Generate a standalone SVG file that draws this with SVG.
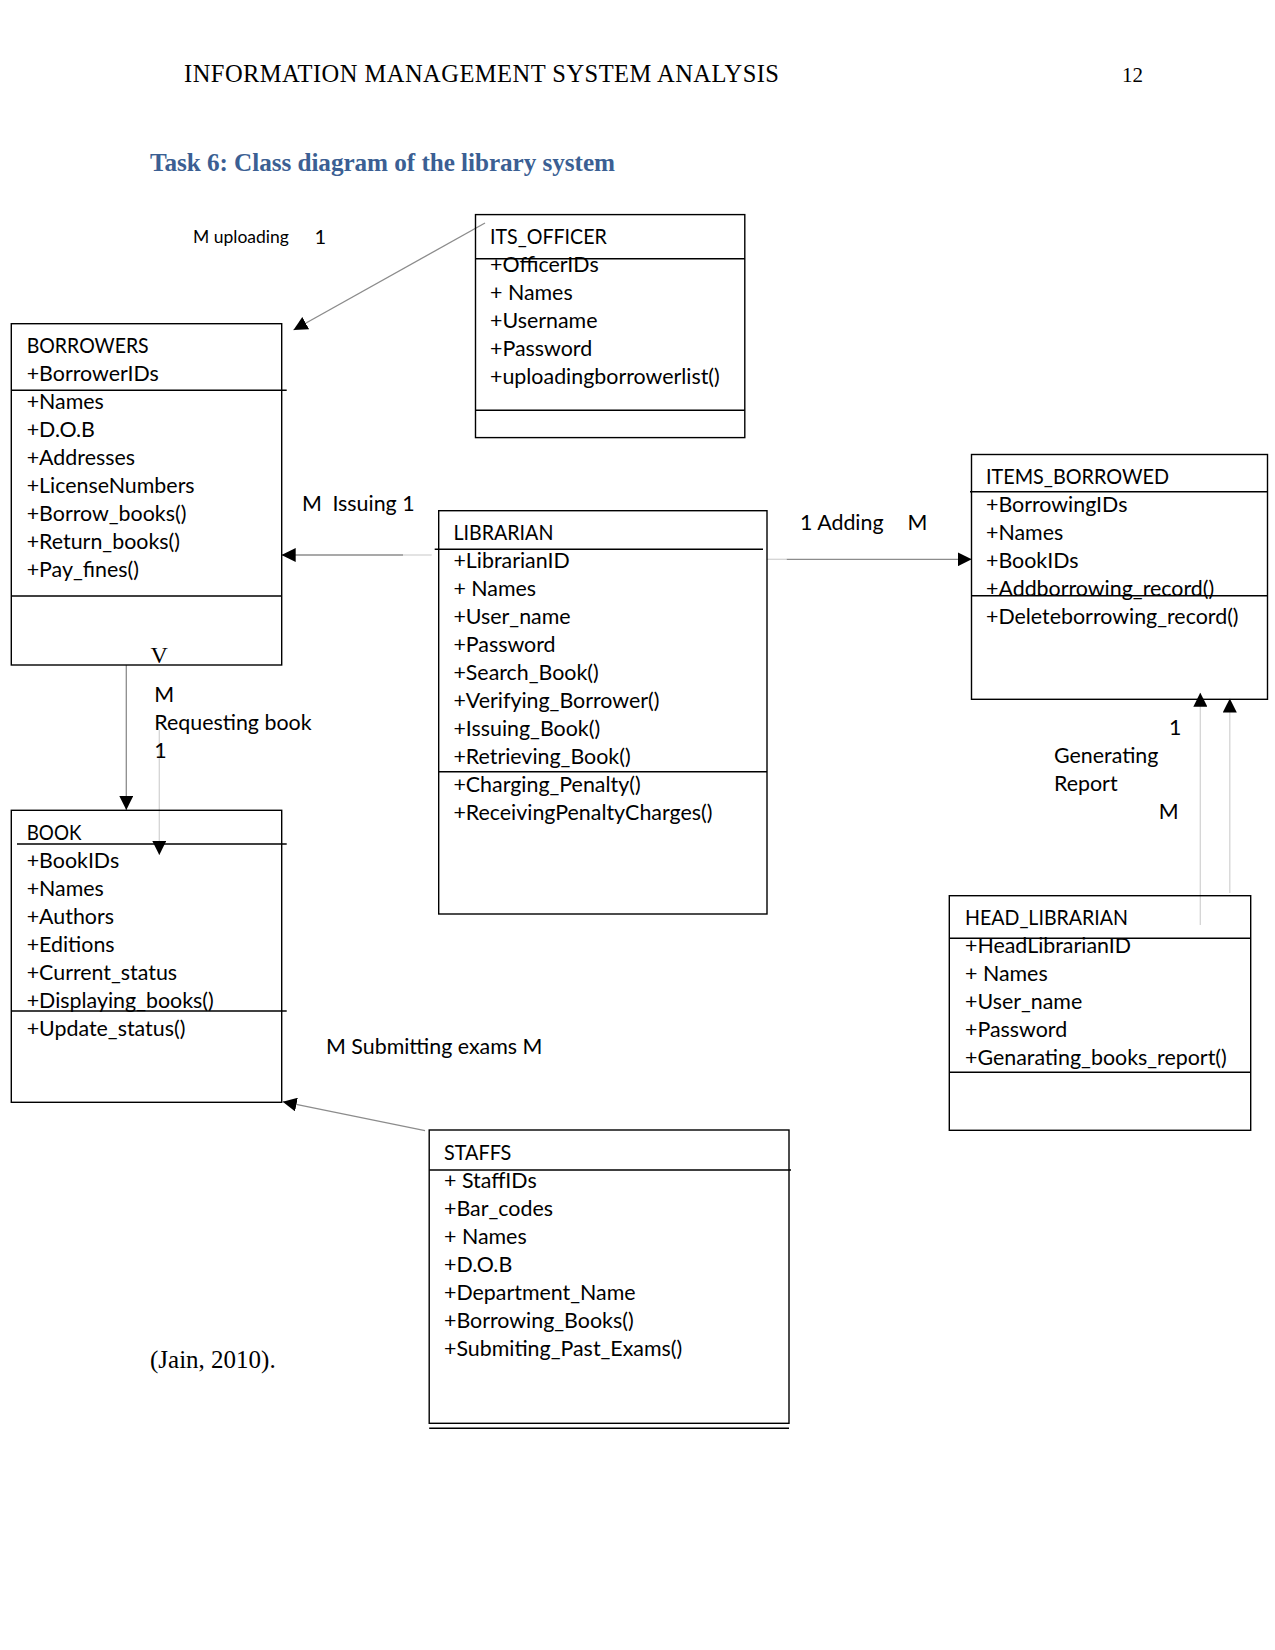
<svg xmlns="http://www.w3.org/2000/svg" width="1275" height="1650" viewBox="0 0 1275 1650">
<style>
.box{fill:none;stroke:#000;stroke-width:1.4}
.sep{stroke:#000;stroke-width:1.4}
.t{font-family:Lato,"Liberation Sans",sans-serif;font-size:21.4px;fill:#000}
.lbl{font-family:Lato,"Liberation Sans",sans-serif;font-size:21.4px;fill:#000}
.small{font-size:17.5px}
.one{font-size:20px}
.serif{font-family:"Liberation Serif","Times New Roman",serif;fill:#000}
.con{stroke:#8c8c8c;stroke-width:1.3;fill:none}
.conl{stroke:#d4d4d4;stroke-width:1.3;fill:none}
</style>
<defs>
<marker id="ah" markerUnits="userSpaceOnUse" markerWidth="14" markerHeight="14" viewBox="0 0 12 12" refX="12" refY="6" orient="auto">
<path d="M0,0 L12,6 L0,12 Z" fill="#000"/>
</marker>
</defs>
<rect width="1275" height="1650" fill="#fff"/>

<g id="page-text">
<text class="serif" x="184" y="82" font-size="24.5" textLength="595">INFORMATION MANAGEMENT SYSTEM ANALYSIS</text>
<text class="serif" x="1122" y="82" font-size="21">12</text>
<text class="serif" x="150" y="171" font-size="25.2" font-weight="bold" style="fill:#3b5f93" textLength="465">Task 6: Class diagram of the library system</text>
<text class="serif" x="150" y="1368" font-size="25">(Jain, 2010).</text>
</g>

<g id="connectors">
<line class="con" x1="485" y1="223" x2="293.5" y2="330" marker-end="url(#ah)"/>
<line class="conl" x1="431.7" y1="555" x2="403" y2="555"/>
<line class="con" x1="403" y1="555" x2="281.7" y2="555" marker-end="url(#ah)"/>
<line class="conl" x1="767" y1="559.3" x2="786.7" y2="559.3"/>
<line class="con" x1="786.7" y1="559.3" x2="971.7" y2="559.3" marker-end="url(#ah)"/>
<line class="con" x1="126.3" y1="665" x2="126.3" y2="810" marker-end="url(#ah)"/>
<line class="conl" x1="159.3" y1="730" x2="159.3" y2="855" marker-end="url(#ah)"/>
<line class="conl" x1="1200.3" y1="925" x2="1200.3" y2="692.7" marker-end="url(#ah)"/>
<line class="conl" x1="1229.8" y1="893" x2="1229.8" y2="698.5" marker-end="url(#ah)"/>
<line class="con" x1="425" y1="1130.7" x2="282.7" y2="1101.7" marker-end="url(#ah)"/>
</g>

<g id="labels">
<text class="lbl small" x="193" y="243">M uploading</text>
<text class="lbl one" x="314.5" y="244">1</text>
<text class="lbl" x="302" y="511">M</text>
<text class="lbl" x="332.4" y="511">Issuing 1</text>
<text class="lbl" x="800" y="530">1 Adding</text>
<text class="lbl" x="907.5" y="530">M</text>
<text class="serif" x="150.5" y="663" font-size="24">V</text>
<text class="lbl" x="154.3" y="702">M</text>
<text class="lbl" x="154.3" y="730.3">Requesting book</text>
<text class="lbl" x="154.3" y="758">1</text>
<text class="lbl" x="1169" y="735">1</text>
<text class="lbl" x="1054" y="763">Generating</text>
<text class="lbl" x="1054" y="791">Report</text>
<text class="lbl" x="1158.7" y="818.7">M</text>
<text class="lbl" x="326" y="1054">M Submitting exams M</text>
</g>

<g id="its_officer">
<rect class="box" x="475.5" y="214.6" width="269.3" height="223"/>
<line class="sep" x1="475.5" y1="258.8" x2="744.8" y2="258.8"/>
<line class="sep" x1="475.5" y1="410.3" x2="744.8" y2="410.3"/>
<text class="t" x="490" y="243.5" textLength="116.8" lengthAdjust="spacingAndGlyphs">ITS_OFFICER</text>
<text class="t" x="490" y="271.5">+OfficerIDs</text>
<text class="t" x="490" y="299.5">+ Names</text>
<text class="t" x="490" y="327.5">+Username</text>
<text class="t" x="490" y="355.5">+Password</text>
<text class="t" x="490" y="383.5">+uploadingborrowerlist()</text>
</g>

<g id="borrowers">
<rect class="box" x="11.3" y="323.7" width="270.4" height="341.3"/>
<line class="sep" x1="11.3" y1="390.3" x2="286.7" y2="390.3"/>
<line class="sep" x1="11.3" y1="596" x2="281.7" y2="596"/>
<text class="t" x="26.7" y="352.5" textLength="122" lengthAdjust="spacingAndGlyphs">BORROWERS</text>
<text class="t" x="26.7" y="380.5">+BorrowerIDs</text>
<text class="t" x="26.7" y="408.6">+Names</text>
<text class="t" x="26.7" y="436.6">+D.O.B</text>
<text class="t" x="26.7" y="464.7">+Addresses</text>
<text class="t" x="26.7" y="492.7">+LicenseNumbers</text>
<text class="t" x="26.7" y="520.8">+Borrow_books()</text>
<text class="t" x="26.7" y="548.8">+Return_books()</text>
<text class="t" x="26.7" y="576.9">+Pay_fines()</text>
</g>

<g id="librarian">
<rect class="box" x="438.7" y="510.7" width="328.3" height="403.3"/>
<line class="sep" x1="434.7" y1="549.3" x2="763" y2="549.3"/>
<line class="sep" x1="438.7" y1="771.7" x2="767" y2="771.7"/>
<text class="t" x="453.4" y="539.7" textLength="100" lengthAdjust="spacingAndGlyphs">LIBRARIAN</text>
<text class="t" x="453.4" y="567.7">+LibrarianID</text>
<text class="t" x="453.4" y="595.7">+ Names</text>
<text class="t" x="453.4" y="623.7">+User_name</text>
<text class="t" x="453.4" y="651.7">+Password</text>
<text class="t" x="453.4" y="679.7">+Search_Book()</text>
<text class="t" x="453.4" y="707.7">+Verifying_Borrower()</text>
<text class="t" x="453.4" y="735.7">+Issuing_Book()</text>
<text class="t" x="453.4" y="763.7">+Retrieving_Book()</text>
<text class="t" x="453.4" y="791.7">+Charging_Penalty()</text>
<text class="t" x="453.4" y="819.7">+ReceivingPenaltyCharges()</text>
</g>

<g id="items_borrowed">
<rect class="box" x="971.5" y="454.5" width="296" height="244.8"/>
<line class="sep" x1="970" y1="491.7" x2="1267.5" y2="491.7"/>
<line class="sep" x1="971.5" y1="595.7" x2="1267.5" y2="595.7"/>
<text class="t" x="986" y="483.7" textLength="183" lengthAdjust="spacingAndGlyphs">ITEMS_BORROWED</text>
<text class="t" x="986" y="511.7">+BorrowingIDs</text>
<text class="t" x="986" y="539.7">+Names</text>
<text class="t" x="986" y="567.7">+BookIDs</text>
<text class="t" x="986" y="595.7">+Addborrowing_record()</text>
<text class="t" x="986" y="623.7">+Deleteborrowing_record()</text>
</g>

<g id="book">
<rect class="box" x="11.3" y="810.3" width="270.4" height="292"/>
<line class="sep" x1="17" y1="844" x2="286.7" y2="844"/>
<line class="sep" x1="11.3" y1="1011" x2="286.7" y2="1011"/>
<text class="t" x="26.7" y="839.7" textLength="54.7" lengthAdjust="spacingAndGlyphs">BOOK</text>
<text class="t" x="26.7" y="867.7">+BookIDs</text>
<text class="t" x="26.7" y="895.7">+Names</text>
<text class="t" x="26.7" y="923.7">+Authors</text>
<text class="t" x="26.7" y="951.7">+Editions</text>
<text class="t" x="26.7" y="979.7">+Current_status</text>
<text class="t" x="26.7" y="1007.7">+Displaying_books()</text>
<text class="t" x="26.7" y="1035.7">+Update_status()</text>
</g>

<g id="head_librarian">
<rect class="box" x="949.3" y="895.7" width="301.4" height="234.6"/>
<line class="sep" x1="949.3" y1="938.3" x2="1250.7" y2="938.3"/>
<line class="sep" x1="949.3" y1="1072.3" x2="1250.7" y2="1072.3"/>
<text class="t" x="965" y="924.7" textLength="163" lengthAdjust="spacingAndGlyphs">HEAD_LIBRARIAN</text>
<text class="t" x="965" y="952.7">+HeadLibrarianID</text>
<text class="t" x="965" y="980.7">+ Names</text>
<text class="t" x="965" y="1008.7">+User_name</text>
<text class="t" x="965" y="1036.7">+Password</text>
<text class="t" x="965" y="1064.7">+Genarating_books_report()</text>
</g>

<g id="staffs">
<rect class="box" x="429.2" y="1130" width="359.8" height="293.3"/>
<line class="sep" x1="429.2" y1="1170" x2="791" y2="1170"/>
<line class="sep" x1="429.2" y1="1428.3" x2="789" y2="1428.3"/>
<text class="t" x="444" y="1160.3" textLength="67.3" lengthAdjust="spacingAndGlyphs">STAFFS</text>
<text class="t" x="444" y="1188.2">+ StaffIDs</text>
<text class="t" x="444" y="1216.1">+Bar_codes</text>
<text class="t" x="444" y="1244">+ Names</text>
<text class="t" x="444" y="1271.9">+D.O.B</text>
<text class="t" x="444" y="1299.8">+Department_Name</text>
<text class="t" x="444" y="1327.7">+Borrowing_Books()</text>
<text class="t" x="444" y="1355.6">+Submiting_Past_Exams()</text>
</g>
</svg>
